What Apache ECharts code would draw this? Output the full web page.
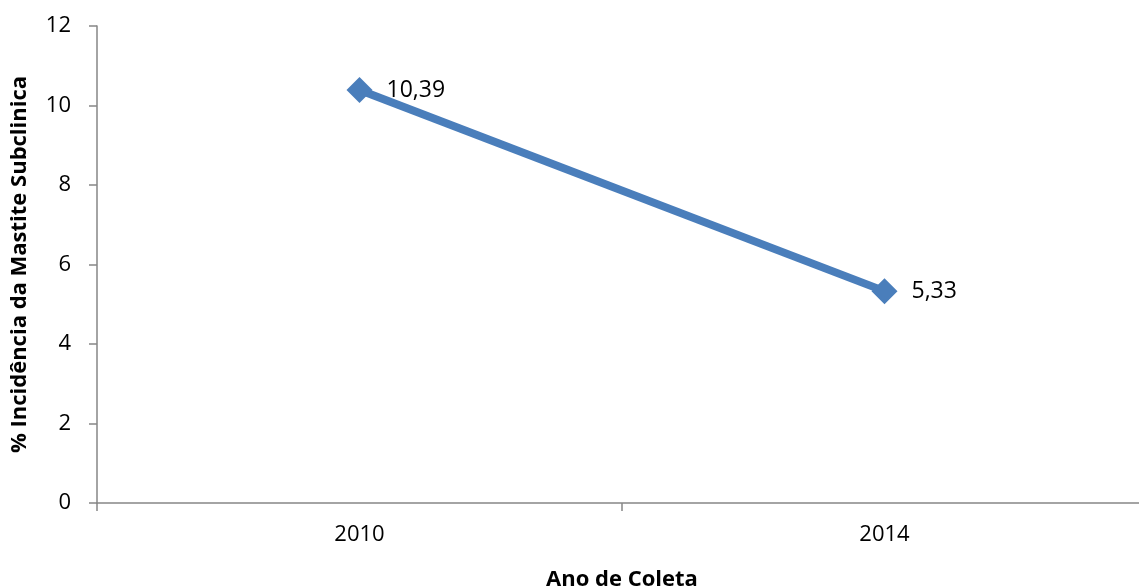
<!DOCTYPE html>
<html>
<head>
<meta charset="utf-8">
<title>Mastite Subclinica</title>
<script src="https://cdn.jsdelivr.net/npm/echarts@6/dist/echarts.min.js"></script>
<style>
  html, body { margin: 0; padding: 0; background: #ffffff; }
  #chart { width: 1139px; height: 587px; }
</style>
</head>
<body>
<div id="chart"></div>
<script>
// Incidence of subclinical mastitis by collection year
const years = ['2010', '2014'];
const incidence = [10.39, 5.33];
const yTicks = { min: 0, max: 12, interval: 2 };

const FONT = '"Open Sans", "Liberation Sans", sans-serif';
const AXIS_GRAY = '#868686';
const LINE_BLUE = '#4a7ebb';

const chart = echarts.init(document.getElementById('chart'), null, { renderer: 'canvas' });

chart.setOption({
  animation: false,
  backgroundColor: '#ffffff',
  // plot area runs past the right edge of the canvas
  grid: { left: 97, top: 26, width: 1050, height: 477, containLabel: false, outerBoundsMode: 'none' },
  xAxis: {
    type: 'category',
    data: years,
    boundaryGap: true,
    name: 'Ano de Coleta',
    nameLocation: 'middle',
    nameGap: 66,
    nameTextStyle: { fontFamily: FONT, fontWeight: 'bold', fontSize: 22, color: '#000' },
    axisLine: { lineStyle: { color: AXIS_GRAY, width: 1.5 } },
    axisTick: { show: true, inside: false, length: 8, alignWithLabel: false, lineStyle: { color: AXIS_GRAY, width: 1.5 } },
    axisLabel: { fontFamily: FONT, fontSize: 22, color: '#000', margin: 21 },
    splitLine: { show: false }
  },
  yAxis: {
    type: 'value',
    min: yTicks.min,
    max: yTicks.max,
    interval: yTicks.interval,
    name: '% Incidência da Mastite Subclinica',
    nameLocation: 'middle',
    nameGap: 66,
    nameRotate: 90,
    nameTextStyle: { fontFamily: FONT, fontWeight: 'bold', fontSize: 22, color: '#000' },
    axisLine: { show: true, lineStyle: { color: AXIS_GRAY, width: 1.5 } },
    axisTick: { show: true, inside: false, length: 8, lineStyle: { color: AXIS_GRAY, width: 1.5 } },
    axisLabel: { fontFamily: FONT, fontSize: 22, color: '#000', margin: 26 },
    splitLine: { show: false }
  },
  series: [{
    type: 'line',
    data: incidence,
    symbol: 'diamond',
    symbolSize: 26,
    lineStyle: { color: LINE_BLUE, width: 8 },
    itemStyle: { color: LINE_BLUE },
    label: {
      show: true,
      position: 'right',
      distance: 14,
      fontFamily: FONT,
      fontSize: 23,
      color: '#000',
      formatter: p => String(p.value).replace('.', ',')
    }
  }]
});
</script>
</body>
</html>
